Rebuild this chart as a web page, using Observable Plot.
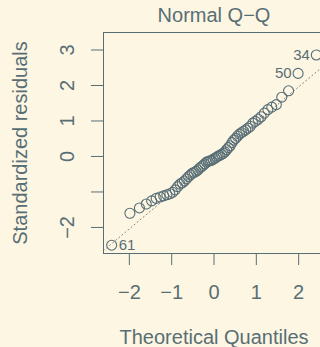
<!DOCTYPE html>
<html>
<head>
<meta charset="utf-8">
<script src="https://cdn.jsdelivr.net/npm/d3@7"></script>
<script src="https://cdn.jsdelivr.net/npm/@observablehq/plot@0.6"></script>
<style>
  html, body { margin: 0; padding: 0; background: #fdf6e3; overflow: hidden; }
  #chart svg { display: block; }
</style>
</head>
<body>
<div id="chart"></div>
<script>
// ---- data ----
const theoreticalQuantiles = [
  -2.418,-1.987,-1.762,-1.601,-1.473,-1.366,-1.273,-1.189,-1.113,-1.044,-0.978,-0.917,-0.859,-0.803,-0.750,-0.699,
  -0.650,-0.602,-0.556,-0.511,-0.467,-0.424,-0.381,-0.340,-0.298,-0.258,-0.218,-0.178,-0.137,-0.098,-0.059,-0.020,
  0.020,0.059,0.098,0.137,0.178,0.218,0.258,0.298,0.340,0.381,0.424,0.467,0.511,0.556,0.602,0.650,
  0.699,0.750,0.803,0.859,0.917,0.978,1.044,1.113,1.189,1.273,1.366,1.473,1.601,1.762,1.987,2.418
];
const standardizedResiduals = [
  -2.50,-1.60,-1.45,-1.34,-1.25,-1.18,-1.14,-1.11,-1.08,-1.05,-1.01,-0.94,-0.85,-0.78,-0.74,-0.69,
  -0.63,-0.57,-0.52,-0.47,-0.45,-0.42,-0.38,-0.33,-0.29,-0.25,-0.21,-0.16,-0.14,-0.12,-0.11,-0.08,
  -0.05,-0.02,0.01,0.03,0.06,0.09,0.13,0.19,0.25,0.30,0.39,0.46,0.51,0.57,0.63,0.67,
  0.71,0.75,0.80,0.85,0.94,0.99,1.05,1.12,1.22,1.32,1.39,1.46,1.67,1.85,2.34,2.86
];
const idPointIndex = [0, 62, 63];
const idLabels = ["61", "50", "34"];
const qqIntercept = -0.04;
const qqSlope = 1.0;
const xDomain = [-2.611, 2.611];
const yDomain = [-2.734, 3.493];
const xTicks = [-2, -1, 0, 1, 2];
const yTicks = [-2, -1, 0, 1, 2, 3];
const yTickLabels = [-2, 0, 1, 2, 3];
const titleText = "Normal Q\u2212Q";
const xTitle = "Theoretical Quantiles";
const yTitle = "Standardized residuals";

// ---- build ----
const fg = "#586e75";
const bg = "#fdf6e3";
const font = "'Liberation Sans', Arial, Helvetica, sans-serif";
const fmt = v => String(v).replace("-", "\u2212");

const points = theoreticalQuantiles.map((q, i) => ({q, r: standardizedResiduals[i]}));
const ids = idPointIndex.map((k, j) => ({q: theoreticalQuantiles[k], r: standardizedResiduals[k], label: idLabels[j]}));
const idsRight = ids.filter(d => d.q < 0);
const idsLeft = ids.filter(d => d.q >= 0);
const qqLine = xDomain.map(x => ({q: x, r: qqIntercept + qqSlope * x}));

const chart = Plot.plot({
  width: 320,
  height: 347,
  marginLeft: 103,
  marginRight: -4,
  marginTop: 32,
  marginBottom: 94,
  style: {background: bg, color: fg, fontFamily: font, fontSize: "20px", overflow: "hidden"},
  x: {domain: xDomain, ticks: xTicks, tickSize: 12, tickFormat: () => "", label: null},
  y: {domain: yDomain, ticks: yTicks, tickSize: 12, tickFormat: () => "", label: null},
  marks: [
    Plot.line(qqLine, {x: "q", y: "r", stroke: "#7f7f7f", strokeWidth: 1, strokeDasharray: "1,3"}),
    Plot.dot(points, {x: "q", y: "r", r: 5, stroke: fg, fill: "none", strokeWidth: 1.1}),
    Plot.text(idsRight, {x: "q", y: "r", text: "label", textAnchor: "start", dx: 7, fontSize: 15, fill: fg, lineAnchor: "middle"}),
    Plot.text(idsLeft, {x: "q", y: "r", text: "label", textAnchor: "end", dx: -6.5, fontSize: 15, fill: fg, lineAnchor: "middle"}),
    Plot.frame({stroke: fg, strokeWidth: 1}),
    Plot.text(xTicks, {x: d => d, frameAnchor: "bottom", text: fmt, dy: 45.3, lineAnchor: "bottom", textAnchor: "middle", fontSize: 20, fill: fg}),
    Plot.text(yTickLabels, {y: d => d, frameAnchor: "left", text: fmt, rotate: -90, dx: -35.5, lineAnchor: "middle", textAnchor: "middle", fontSize: 20, fill: fg}),
    Plot.text([titleText], {frameAnchor: "top", dy: -10.3, lineAnchor: "bottom", textAnchor: "middle", fontSize: 20, fill: fg}),
    Plot.text([xTitle], {frameAnchor: "bottom", dy: 90.5, lineAnchor: "bottom", textAnchor: "middle", fontSize: 20, fill: fg}),
    Plot.text([yTitle], {frameAnchor: "left", rotate: -90, dx: -76.5, lineAnchor: "bottom", textAnchor: "middle", fontSize: 20, fill: fg})
  ]
});
document.getElementById("chart").appendChild(chart);
</script>
</body>
</html>
